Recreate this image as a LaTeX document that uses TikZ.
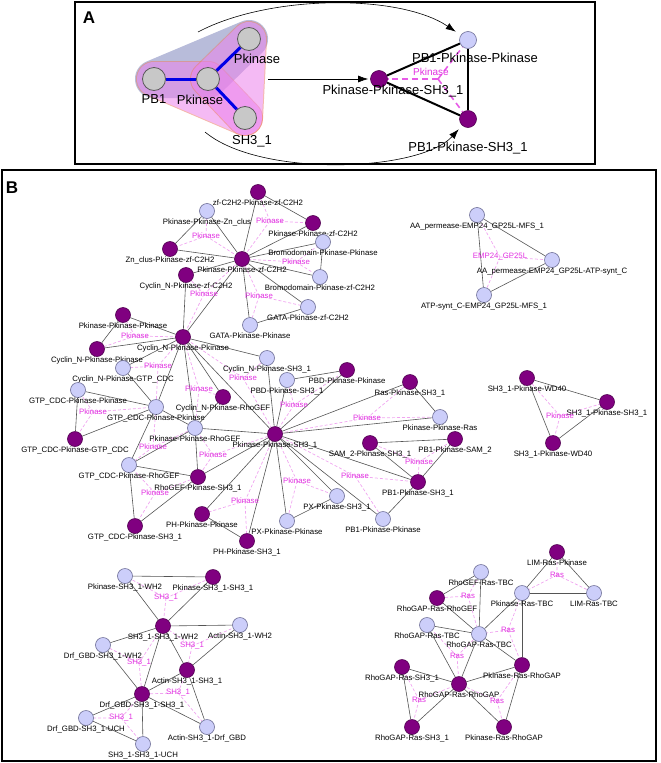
\documentclass[tikz,border=0pt]{standalone}
\usepackage{fontspec}
\setmainfont{Liberation Sans}
\usetikzlibrary{arrows.meta,backgrounds}

\definecolor{pnodefill}{RGB}{128,0,128}
\definecolor{pnodeline}{RGB}{80,0,80}
\definecolor{lnodefill}{RGB}{204,206,250}
\definecolor{lnodeline}{RGB}{110,110,150}
\definecolor{gnodefill}{RGB}{200,200,200}
\definecolor{domtext}{RGB}{225,50,225}
\definecolor{domline}{RGB}{240,165,240}
\definecolor{linkgray}{RGB}{85,85,85}
\definecolor{hullgray}{RGB}{160,165,205}
\definecolor{hullpink}{RGB}{235,130,235}
\definecolor{hullrim}{RGB}{235,125,105}
\definecolor{hyperblue}{RGB}{0,0,230}

\tikzset{
  pnode/.style={circle, draw=pnodeline, fill=pnodefill, line width=0.6pt,
    minimum size=15pt, inner sep=0pt, label distance=-1.5pt},
  lnode/.style={pnode, draw=lnodeline, fill=lnodefill},
  gnode/.style={circle, draw=black!65, fill=gnodefill, line width=0.8pt,
    minimum size=23pt, inner sep=0pt},
  apnode/.style={pnode, minimum size=17pt, label distance=0pt},
  alnode/.style={lnode, minimum size=17pt, label distance=0pt},
  bigtxt/.style={font=\fontsize{13}{15}\selectfont},
  dom/.style={text=domtext, font=\fontsize{7.8}{8}\selectfont, inner sep=0pt},
  paneltag/.style={font=\fontsize{17}{20}\selectfont\bfseries, inner sep=0pt},
  panelbox/.style={line width=1.8pt},
  link/.style={draw=linkgray, line width=0.6pt},
  hedge/.style={draw=domline, line width=0.7pt, dash pattern=on 3pt off 2pt},
  hyper/.style={draw=hyperblue, line width=3pt},
  atri/.style={line width=2pt},
  adash/.style={draw=domtext!80, line width=1.6pt, dash pattern=on 6pt off 4pt},
  flowarrow/.style={-{Latex[length=10pt,width=7pt]}, line width=0.6pt}
}

\begin{document}
\begin{tikzpicture}[x=1pt, y=-1pt,
  every label/.style={font=\fontsize{7.8}{8}\selectfont, inner sep=0pt}]
  \useasboundingbox (0,0) rectangle (661,763);

  % panel frames
  \draw[panelbox] (75,2) rectangle (595,164);
  \draw[panelbox] (2,170) rectangle (656,761);
  \node[paneltag] (tagA) at (89,18) {A};
  \node[paneltag] (tagB) at (12,188) {B};

  % ---------- A: domain graph ----------
  \node[gnode, label={[bigtxt, yshift=-3.8pt]below:PB1}] (gPB) at (154,79) {};
  \node[gnode, label={[bigtxt, xshift=-8pt, yshift=-3.8pt]below:Pkinase}] (gPk) at (208,79) {};
  \node[gnode, label={[bigtxt, xshift=8pt, yshift=-2.8pt]below:Pkinase}] (gTop) at (249,39) {};
  \node[gnode, label={[bigtxt, xshift=7pt, yshift=-5.8pt]below:SH3\_1}] (gSH) at (245,118) {};

  % A: triplet graph
  \node[apnode, label={[bigtxt, xshift=14pt, yshift=3.2pt]below:Pkinase-Pkinase-SH3\_1}] (aPPS) at (379,79) {};
  \node[alnode, label={[bigtxt, xshift=7pt, yshift=-3.8pt]below:PB1-Pkinase-Pkinase}] (aPBP) at (468,40) {};
  \node[apnode, label={[bigtxt, yshift=-13.8pt]below:PB1-Pkinase-SH3\_1}] (aPBS) at (468,119) {};
  \coordinate (aMid) at (438,79);
  \node[dom, font=\fontsize{10}{12}\selectfont] (aDom) at (431,72) {Pkinase};

  \coordinate (aFrom) at (268,79);
  \coordinate (aTopFrom) at (198,32);
  \coordinate (aBotFrom) at (205,132);
  \draw[flowarrow, shorten >=2pt] (aFrom) -- (aPPS);
  \draw[flowarrow, shorten >=6pt] (aTopFrom) .. controls (270,-6) and (400,-6) .. (aPBP);
  \draw[flowarrow, shorten >=5pt] (aBotFrom) .. controls (260,178) and (420,172) .. (aPBS);

  % ---------- B: Pkinase network ----------
  \node[pnode, label=below:zf-C2H2-Pkinase-zf-C2H2] (zz) at (258,192) {};
  \node[lnode, label=below:Pkinase-Pkinase-Zn\_clus] (ppzn) at (207,211) {};
  \node[pnode, label=below:Pkinase-Pkinase-zf-C2H2] (ppzf) at (313,223) {};
  \node[pnode, label=below:Zn\_clus-Pkinase-zf-C2H2] (znpz) at (170,249) {};
  \node[pnode, label=below:Pkinase-Pkinase-zf-C2H2] (hubzf) at (242,259) {};
  \node[lnode, label=below:Bromodomain-Pkinase-Pkinase] (brpp) at (323,242) {};
  \node[pnode, label=below:Cyclin\_N-Pkinase-zf-C2H2] (cnpz) at (186,275) {};
  \node[lnode, label=below:Bromodomain-Pkinase-zf-C2H2] (brpz) at (320,277) {};
  \node[lnode, label=below:GATA-Pkinase-zf-C2H2] (gapz) at (308,307) {};
  \node[lnode, label=below:GATA-Pkinase-Pkinase] (gapp) at (250,325) {};
  \node[pnode, label=below:Pkinase-Pkinase-Pkinase] (ppp) at (123,315) {};
  \node[pnode, label=below:Cyclin\_N-Pkinase-Pkinase] (hubcn) at (183,337) {};
  \node[pnode, label=below:Cyclin\_N-Pkinase-Pkinase] (cnpp) at (97,349) {};
  \node[lnode, label=below:Cyclin\_N-Pkinase-GTP\_CDC] (cnpg) at (123,368) {};
  \node[lnode, label=below:GTP\_CDC-Pkinase-Pkinase] (gpp1) at (78,390) {};
  \node[lnode, label=below:GTP\_CDC-Pkinase-Pkinase] (gpp2) at (156,407) {};
  \node[pnode, label=below:GTP\_CDC-Pkinase-GTP\_CDC] (gpg) at (75,439) {};
  \node[pnode, label=below:Cyclin\_N-Pkinase-RhoGEF] (cnpr) at (223,397) {};
  \node[lnode, label=below:Pkinase-Pkinase-RhoGEF] (ppr) at (195,428) {};
  \node[lnode, label=below:Cyclin\_N-Pkinase-SH3\_1] (cnps) at (267,358) {};
  \node[pnode, label=below:Pkinase-Pkinase-SH3\_1] (hubsh) at (275,434) {};
  \node[lnode, label=below:PBD-Pkinase-SH3\_1] (pbdps) at (287,380) {};
  \node[pnode, label=below:PBD-Pkinase-Pkinase] (pbdpp) at (347,370) {};
  \node[pnode, label=below:Ras-Pkinase-SH3\_1] (rps) at (410,382) {};
  \node[lnode, label=below:Pkinase-Pkinase-Ras] (ppras) at (440,417) {};
  \node[pnode, label=below:SAM\_2-Pkinase-SH3\_1] (sam) at (370,443) {};
  \node[pnode, label=below:PB1-Pkinase-SAM\_2] (pbsam) at (455,439) {};
  \node[pnode, label=below:PB1-Pkinase-SH3\_1] (pbps) at (418,482) {};
  \node[lnode, label=below:PB1-Pkinase-Pkinase] (pbpp) at (383,519) {};
  \node[lnode, label=below:GTP\_CDC-Pkinase-RhoGEF] (gpr) at (129,465) {};
  \node[pnode, label=below:RhoGEF-Pkinase-SH3\_1] (rgps) at (198,477) {};
  \node[pnode, label=below:GTP\_CDC-Pkinase-SH3\_1] (gps) at (135,526) {};
  \node[pnode, label=below:PH-Pkinase-Pkinase] (phpp) at (202,514) {};
  \node[pnode, label=below:PH-Pkinase-SH3\_1] (phps) at (247,541) {};
  \node[lnode, label=below:PX-Pkinase-Pkinase] (pxpp) at (287,521) {};
  \node[lnode, label=below:PX-Pkinase-SH3\_1] (pxps) at (337,496) {};

  % small components
  \node[lnode, label=below:AA\_permease-EMP24\_GP25L-MFS\_1] (aam) at (477,215) {};
  \node[lnode, label=below:AA\_permease-EMP24\_GP25L-ATP-synt\_C] (aaa) at (552,260) {};
  \node[lnode, label=below:ATP-synt\_C-EMP24\_GP25L-MFS\_1] (atp) at (484,295) {};
  \node[pnode, label=below:SH3\_1-Pkinase-WD40] (swa) at (527,378) {};
  \node[pnode, label=below:SH3\_1-Pkinase-SH3\_1] (sws) at (607,402) {};
  \node[pnode, label=below:SH3\_1-Pkinase-WD40] (swb) at (553,443) {};

  % SH3_1 network
  \node[lnode, label=below:Pkinase-SH3\_1-WH2] (psw) at (125,576) {};
  \node[pnode, label=below:Pkinase-SH3\_1-SH3\_1] (pss) at (213,577) {};
  \node[pnode, label=below:SH3\_1-SH3\_1-WH2] (ssw) at (163,626) {};
  \node[lnode, label=below:Actin-SH3\_1-WH2] (asw) at (240,625) {};
  \node[lnode, label=below:Drf\_GBD-SH3\_1-WH2] (dsw) at (103,645) {};
  \node[pnode, label=below:Actin-SH3\_1-SH3\_1] (ass) at (187,670) {};
  \node[pnode, label=below:Drf\_GBD-SH3\_1-SH3\_1] (dss) at (142,694) {};
  \node[lnode, label=below:Drf\_GBD-SH3\_1-UCH] (dsu) at (86,718) {};
  \node[lnode, label=below:Actin-SH3\_1-Drf\_GBD] (asd) at (207,727) {};
  \node[lnode, label=below:SH3\_1-SH3\_1-UCH] (ssu) at (143,744) {};

  % Ras network
  \node[pnode, label=below:LIM-Ras-Pkinase] (lrp) at (557,552) {};
  \node[lnode, label=below:RhoGEF-Ras-TBC] (rgt) at (481,572) {};
  \node[lnode, label=below:Pkinase-Ras-TBC] (prt) at (522,593) {};
  \node[lnode, label=below:LIM-Ras-TBC] (lrt) at (594,593) {};
  \node[pnode, label=below:RhoGAP-Ras-RhoGEF] (rgr) at (437,598) {};
  \node[lnode, label=below:RhoGAP-Ras-TBC] (rgta) at (427,625) {};
  \node[lnode, label=below:RhoGAP-Ras-TBC] (rgtb) at (479,634) {};
  \node[pnode, label=below:Pkinase-Ras-RhoGAP] (prra) at (522,665) {};
  \node[pnode, label=below:RhoGAP-Ras-SH3\_1] (rrsa) at (402,667) {};
  \node[pnode, label=below:RhoGAP-Ras-RhoGAP] (rrr) at (459,684) {};
  \node[pnode, label=below:RhoGAP-Ras-SH3\_1] (rrsb) at (412,727) {};
  \node[pnode, label=below:Pkinase-Ras-RhoGAP] (prrb) at (504,727) {};

  % shared-domain labels
  \node[dom] (t1) at (270,221) {Pkinase};
  \node[dom] (t2) at (206,236) {Pkinase};
  \node[dom] (t3) at (296,262) {Pkinase};
  \node[dom] (t4) at (204,294) {Pkinase};
  \node[dom] (t5) at (259,296) {Pkinase};
  \node[dom] (t6) at (135,336) {Pkinase};
  \node[dom] (t7) at (158,366) {Pkinase};
  \node[dom] (t8) at (93,412) {Pkinase};
  \node[dom] (t9) at (199,389) {Pkinase};
  \node[dom] (t10) at (243,378) {Pkinase};
  \node[dom] (t11) at (294,405) {Pkinase};
  \node[dom] (t12) at (367,418) {Pkinase};
  \node[dom] (t13) at (153,447) {Pkinase};
  \node[dom] (t14) at (213,455) {Pkinase};
  \node[dom] (t15) at (155,493) {Pkinase};
  \node[dom] (t16) at (245,501) {Pkinase};
  \node[dom] (t17) at (297,481) {Pkinase};
  \node[dom] (t18) at (355,476) {Pkinase};
  \node[dom] (t19) at (419,462) {Pkinase};
  \node[dom] (t20) at (560,416) {Pkinase};
  \node[dom] (t21) at (500,257) {EMP24\_GP25L};
  \node[dom] (s1) at (166,598) {SH3\_1};
  \node[dom] (s2) at (192,646) {SH3\_1};
  \node[dom] (s3) at (139,663) {SH3\_1};
  \node[dom] (s4) at (178,693) {SH3\_1};
  \node[dom] (s5) at (121,718) {SH3\_1};
  \node[dom] (r1) at (557,575) {Ras};
  \node[dom] (r2) at (468,596) {Ras};
  \node[dom] (r3) at (457,656) {Ras};
  \node[dom] (r4) at (508,630) {Ras};
  \node[dom] (r5) at (419,700) {Ras};
  \node[dom] (r6) at (497,701) {Ras};

  \begin{scope}[on background layer]
    % hulls of the three triplets
    \begin{scope}[transparency group, opacity=0.75]
      \filldraw[hullgray, line width=38pt, line join=round]
        (gPB.center) -- (gPk.center) -- (gTop.center) -- cycle;
    \end{scope}
    \foreach \u in {gPB, gTop} {
      \begin{scope}[transparency group, opacity=0.55]
        \filldraw[hullrim, line width=36pt, line join=round]
          (\u.center) -- (gPk.center) -- (gSH.center) -- cycle;
        \filldraw[hullpink, line width=34pt, line join=round]
          (\u.center) -- (gPk.center) -- (gSH.center) -- cycle;
      \end{scope}
    }
    \draw[hyper] (gPB) -- (gPk);
    \draw[hyper] (gPk) -- (gTop);
    \draw[hyper] (gPk) -- (gSH);

    \draw[atri] (aPPS) -- (aPBP);
    \draw[atri] (aPBP) -- (aPBS);
    \draw[atri] (aPBS) -- (aPPS);
    \draw[adash] (aMid) -- (aPPS);
    \draw[adash] (aMid) -- (aPBP);
    \draw[adash] (aMid) -- (aPBS);

    % dashed lines to the shared-domain labels
    \foreach \t/\a/\b/\c in {t1/zz/ppzf/hubzf, t2/ppzn/znpz/hubzf, t3/hubzf/brpp/brpz,
        t4/cnpz/hubzf/hubcn, t5/hubzf/gapz/gapp, t6/ppp/cnpp/hubcn,
        t7/hubcn/cnpg/gpp2, t8/gpp1/gpg/gpp2, t9/hubcn/cnpr/ppr,
        t10/hubcn/cnps/hubsh, t11/hubsh/pbdps/pbdpp, t12/hubsh/rps/ppras,
        t13/gpp2/gpr/ppr, t14/ppr/rgps/hubsh, t15/gpr/rgps/gps,
        t16/hubsh/phpp/phps, t17/hubsh/pxpp/pxps, t18/hubsh/pbps/pbpp,
        t19/sam/pbsam/pbps, t20/swa/sws/swb, t21/aam/aaa/atp,
        s1/psw/pss/ssw, s2/ssw/asw/ass, s3/ssw/dsw/dss, s4/ass/dss/asd,
        s5/dss/dsu/ssu, r1/lrp/prt/lrt, r2/rgt/rgr/rgtb, r3/rgta/rgtb/rrr,
        r4/prt/rgtb/prra, r5/rrsa/rrr/rrsb, r6/rrr/prra/prrb}
      \draw[hedge] (\t.center) -- (\a) (\t.center) -- (\b) (\t.center) -- (\c);

    % solid links
    \foreach \a/\b in {zz/ppzf, zz/hubzf, ppzf/hubzf, ppzn/znpz, ppzn/hubzf,
        znpz/hubzf, hubzf/brpp, hubzf/brpz, brpp/brpz, cnpz/hubzf, cnpz/hubcn,
        hubzf/hubcn, hubzf/gapz, hubzf/gapp, gapz/gapp, ppp/cnpp, ppp/hubcn,
        cnpp/hubcn, hubcn/cnpg, hubcn/gpp2, cnpg/gpp2, gpp1/gpg, gpp1/gpp2,
        gpg/gpp2, hubcn/cnpr, hubcn/ppr, cnpr/ppr, hubcn/cnps, hubcn/hubsh,
        cnps/hubsh, hubsh/pbdps, hubsh/pbdpp, pbdps/pbdpp, hubsh/rps,
        hubsh/ppras, rps/ppras, gpp2/gpr, gpp2/ppr, gpr/ppr, ppr/rgps,
        ppr/hubsh, rgps/hubsh, gpr/rgps, gpr/gps, rgps/gps, hubsh/phpp,
        hubsh/phps, phpp/phps, hubsh/pxpp, hubsh/pxps, pxpp/pxps, hubsh/pbps,
        hubsh/pbpp, pbps/pbpp, sam/pbsam, sam/pbps, pbsam/pbps,
        swa/sws, swa/swb, sws/swb, aam/aaa, aam/atp, aaa/atp,
        psw/pss, psw/ssw, pss/ssw, ssw/asw, ssw/ass, asw/ass, ssw/dsw,
        ssw/dss, dsw/dss, ass/dss, ass/asd, dss/asd, dss/dsu, dss/ssu, dsu/ssu,
        lrp/prt, lrp/lrt, prt/lrt, rgt/rgr, rgt/rgtb, rgr/rgtb, rgta/rgtb,
        rgta/rrr, rgtb/rrr, prt/rgtb, prt/prra, rgtb/prra, rrsa/rrr,
        rrsa/rrsb, rrr/rrsb, rrr/prra, rrr/prrb, prra/prrb}
      \draw[link] (\a) -- (\b);
  \end{scope}
\end{tikzpicture}
\end{document}
